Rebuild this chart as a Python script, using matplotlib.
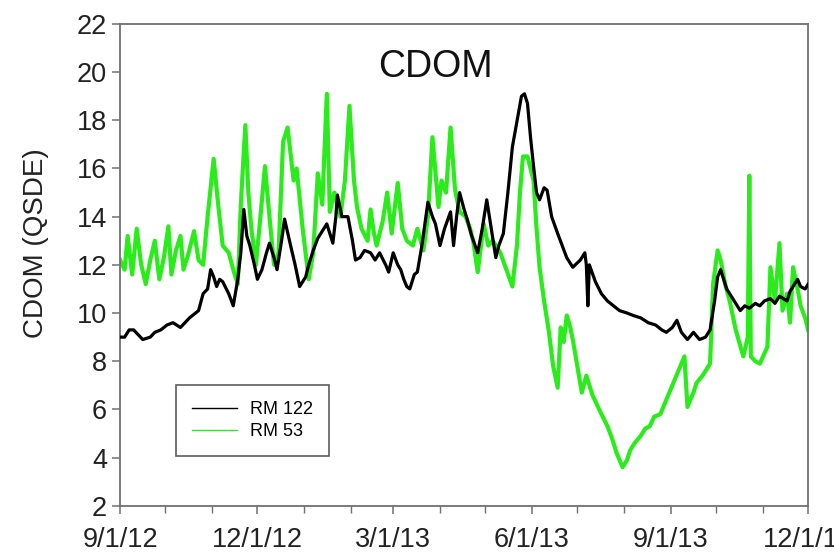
import pandas as pd
import matplotlib.pyplot as plt
import matplotlib.dates as mdates
from matplotlib.lines import Line2D

plt.rcParams['font.family'] = ['Liberation Sans', 'DejaVu Sans']

# -------------------------
# Data (days since 9/1/12, CDOM in QSDE)
# -------------------------
START = pd.Timestamp("2012-09-01")

rm53_days = [0, 3, 5, 8, 11, 14, 17, 20, 23, 26, 29, 32, 34, 37, 40, 42, 45, 49, 52, 55,
             58, 62, 65, 68, 72, 75, 78, 80, 83, 85, 87, 90, 93, 96, 99, 102, 105, 108, 111, 115,
             117, 121, 125, 128, 131, 134, 137, 139, 142, 146, 149, 152, 155, 157, 160, 164, 166, 168, 170, 174,
             177, 180, 184, 187, 190, 194, 197, 201, 204, 207, 211, 213, 216, 219, 222, 225, 229, 232, 234, 237,
             241, 244, 247, 252, 256, 260, 263, 265, 267, 270, 274, 276, 278, 281, 284, 287, 290, 292, 294, 296,
             298, 300, 303, 306, 309, 313, 316, 319, 323, 326, 329, 333, 336, 338, 341, 345, 348, 351, 354, 358,
             362, 366, 370, 374, 376, 380, 382, 386, 391, 393, 396, 398, 401, 404, 408, 413, 416, 417, 418, 421,
             424, 429, 431, 434, 437, 439, 442, 444, 446, 449, 451, 454, 456]
rm53_vals = [12.2, 11.8, 13.2, 11.6, 13.5, 12.0, 11.2, 12.2, 13.0, 11.4, 12.3, 13.6, 11.6, 12.6, 13.2, 11.8, 12.4, 13.4, 12.2, 12.0,
             14.0, 16.4, 14.5, 12.8, 12.5, 11.8, 11.2, 14.5, 17.8, 15.0, 13.5, 12.0, 14.0, 16.1, 14.0, 12.0, 12.5, 17.1, 17.7, 15.5,
             16.0, 13.5, 11.4, 12.5, 15.8, 14.5, 19.1, 14.2, 15.0, 14.0, 15.5, 18.6, 15.5, 14.4, 13.5, 13.0, 14.3, 13.4, 12.8, 13.8,
             15.0, 13.3, 15.4, 13.5, 13.0, 12.8, 13.5, 12.6, 14.0, 17.3, 14.4, 15.5, 15.0, 17.7, 15.1, 14.2, 14.0, 13.5, 13.0, 11.7,
             13.7, 12.8, 13.0, 12.5, 11.8, 11.1, 12.8, 15.0, 16.5, 16.5, 15.5, 13.5, 11.9, 10.5, 9.3, 7.8, 6.9, 9.4, 8.8, 9.9,
             9.5, 8.9, 7.8, 6.7, 7.4, 6.6, 6.2, 5.8, 5.3, 4.8, 4.2, 3.6, 3.9, 4.3, 4.6, 4.9, 5.2, 5.3, 5.7, 5.8,
             6.4, 7.0, 7.6, 8.2, 6.1, 6.7, 7.1, 7.4, 7.9, 11.2, 12.6, 12.2, 11.2, 10.5, 9.3, 8.2, 9.0, 15.7, 8.2, 8.0,
             7.9, 8.6, 11.9, 10.5, 12.9, 10.1, 10.8, 9.6, 11.9, 11.0, 10.3, 9.8, 9.3]

rm122_days = [1, 3, 6, 9, 12, 15, 20, 23, 27, 31, 35, 40, 43, 46, 50, 52, 55, 58, 60, 62,
              64, 66, 68, 72, 75, 78, 80, 82, 84, 86, 89, 91, 94, 97, 99, 102, 104, 107, 109, 113,
              116, 119, 123, 125, 128, 131, 135, 137, 141, 143, 144, 147, 151, 154, 156, 159, 162, 166, 169, 172,
              176, 178, 181, 184, 186, 188, 190, 192, 195, 197, 200, 204, 207, 209, 212, 215, 219, 221, 223, 225,
              228, 230, 233, 237, 240, 243, 246, 249, 251, 254, 257, 260, 264, 266, 268, 270, 272, 274, 276, 278,
              281, 283, 286, 290, 293, 296, 300, 305, 308, 309, 310, 311, 315, 319, 323, 327, 331, 336, 340, 345,
              350, 355, 359, 362, 366, 369, 372, 376, 380, 384, 388, 391, 394, 396, 398, 400, 402, 406, 411, 414,
              417, 421, 424, 427, 431, 434, 437, 442, 444, 449, 451, 454, 456]
rm122_vals = [9.0, 9.0, 9.3, 9.3, 9.1, 8.9, 9.0, 9.2, 9.3, 9.5, 9.6, 9.4, 9.6, 9.8, 10.0, 10.1, 10.8, 11.0, 11.8, 11.5,
              11.1, 11.4, 11.3, 10.8, 10.3, 11.4, 12.5, 14.3, 13.2, 12.8, 12.0, 11.4, 11.8, 12.5, 12.9, 12.3, 11.8, 13.0, 13.9, 12.8,
              12.0, 11.1, 11.5, 12.0, 12.6, 13.1, 13.5, 13.7, 12.9, 14.0, 14.9, 14.0, 14.0, 13.0, 12.2, 12.3, 12.6, 12.5, 12.2, 12.5,
              12.0, 11.7, 12.5, 12.0, 11.8, 11.4, 11.1, 11.0, 11.6, 11.7, 12.8, 14.6, 14.0, 13.7, 12.8, 13.5, 14.2, 12.8, 14.0, 15.0,
              14.3, 13.9, 13.2, 12.5, 13.5, 14.7, 13.5, 12.3, 12.8, 13.3, 15.0, 16.9, 18.3, 19.0, 19.1, 18.7, 17.3, 16.1, 15.0, 14.7,
              15.2, 15.1, 14.0, 13.3, 12.8, 12.3, 11.9, 12.2, 12.5, 12.0, 10.3, 12.0, 11.3, 10.8, 10.5, 10.3, 10.1, 10.0, 9.9, 9.8,
              9.6, 9.5, 9.3, 9.2, 9.4, 9.7, 9.2, 8.9, 9.2, 8.9, 9.0, 9.3, 10.5, 11.5, 11.8, 11.4, 11.0, 10.6, 10.1, 10.3,
              10.2, 10.4, 10.3, 10.5, 10.6, 10.4, 10.7, 10.5, 10.9, 11.4, 11.1, 11.0, 11.2]

tick_dates = ["2012-09-01", "2012-12-01", "2013-03-01", "2013-06-01", "2013-09-01", "2013-12-01"]
tick_labels = ["9/1/12", "12/1/12", "3/1/13", "6/1/13", "9/1/13", "12/1/13"]

rm53_dates = START + pd.to_timedelta(rm53_days, unit="D")
rm122_dates = START + pd.to_timedelta(rm122_days, unit="D")

# -------------------------
# Plot
# -------------------------
fig = plt.figure(figsize=(8.34, 5.57), dpi=100)
ax = fig.add_axes([0.144, 0.092, 0.825, 0.865])

ax.plot(rm53_dates, rm53_vals, color="#2aec1a", lw=3.0, zorder=2)
ax.plot(rm122_dates, rm122_vals, color="black", lw=2.3, zorder=3)

ax.set_xlim(pd.Timestamp(tick_dates[0]), pd.Timestamp(tick_dates[-1]))
ax.set_ylim(2, 22)
ax.set_yticks(range(2, 23, 2))
ax.set_xticks(pd.to_datetime(tick_dates))
ax.set_xticklabels(tick_labels)
ax.xaxis.set_minor_locator(mdates.MonthLocator())

spine_col = "#707070"
for s in ax.spines.values():
    s.set_color(spine_col)
    s.set_linewidth(1.3)
ax.tick_params(axis="both", which="major", direction="out", length=6, width=1.1,
               color=spine_col, labelsize=19.5, labelcolor="#222222")
ax.tick_params(axis="x", which="major", pad=9)
ax.tick_params(axis="x", which="minor", direction="out", length=5, width=1.0, color=spine_col)

ax.set_ylabel("CDOM (QSDE)", fontsize=20, color="#222222")
ax.yaxis.set_label_coords(-0.104, 0.545)
ax.text(0.458, 0.91, "CDOM", transform=ax.transAxes, ha="center", va="center",
        fontsize=27, color="#111111")

handles = [Line2D([], [], color="black", lw=1.0), Line2D([], [], color="#2aec1a", lw=1.0)]
leg = ax.legend(handles, ["RM 122", "RM 53"], loc="lower left", bbox_to_anchor=(0.081, 0.103),
                fontsize=13, frameon=True, fancybox=False, handlelength=2.5,
                borderpad=0.9, labelspacing=0.25, handletextpad=0.7, borderaxespad=0)
leg.get_frame().set_edgecolor("#333333")
leg.get_frame().set_linewidth(1.2)

fig.savefig("out.png", dpi=100)
